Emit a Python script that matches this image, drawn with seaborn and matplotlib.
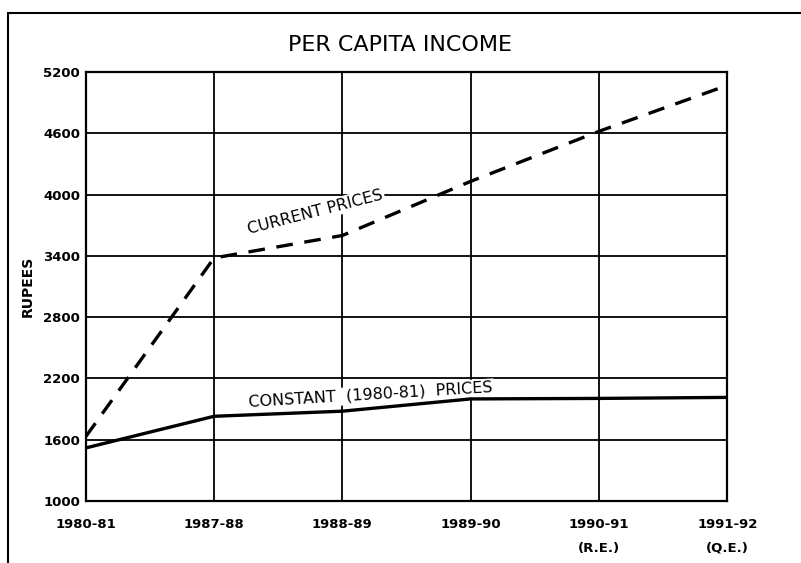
import matplotlib
matplotlib.use("Agg")
import matplotlib.pyplot as plt
import seaborn as sns
import pandas as pd
from matplotlib.lines import Line2D

years = ["1980-81", "1987-88", "1988-89", "1989-90", "1990-91", "1991-92"]
year_notes = ["", "", "", "", "(R.E.)", "(Q.E.)"]
current_prices = [1630, 3380, 3600, 4130, 4620, 5070]
constant_prices = [1520, 1830, 1880, 2000, 2005, 2015]
y_ticks = [1000, 1600, 2200, 2800, 3400, 4000, 4600, 5200]

sns.set_style("white")
plt.rcParams['font.family'] = ['DejaVu Sans']
plt.rcParams['text.color'] = 'black'
plt.rcParams['xtick.color'] = 'black'
plt.rcParams['ytick.color'] = 'black'
plt.rcParams['axes.labelcolor'] = 'black'

df = pd.DataFrame({
    "idx": list(range(len(years))) * 2,
    "value": current_prices + constant_prices,
    "series": ["CURRENT PRICES"] * len(years) + ["CONSTANT (1980-81) PRICES"] * len(years),
})

fig = plt.figure(figsize=(8.01, 5.63), dpi=100)
ax = fig.add_axes([0.107, 0.110, 0.801, 0.762])

# grid
for yt in y_ticks:
    ax.axhline(yt, color="black", lw=1.3, zorder=1)
for i in range(len(years)):
    ax.axvline(i, color="black", lw=1.3, zorder=1)

sns.lineplot(data=df[df.series == "CURRENT PRICES"], x="idx", y="value", ax=ax,
             color="black", lw=2.4, legend=False, zorder=3)
ax.lines[-1].set_dashes([5, 3.5])
sns.lineplot(data=df[df.series != "CURRENT PRICES"], x="idx", y="value", ax=ax,
             color="black", lw=2.4, legend=False, zorder=3)

ax.set_xlim(0, len(years) - 1)
ax.set_ylim(1000, 5200)
ax.set_yticks(y_ticks)
ax.set_yticklabels([str(v) for v in y_ticks], fontsize=9.5, fontweight="bold")
ax.set_xticks(range(len(years)))
ax.set_xticklabels([y if n == "" else f"{y}\n{n}" for y, n in zip(years, year_notes)],
                   fontsize=9.5, fontweight="bold", linespacing=2.1, va="top")
ax.tick_params(axis="y", length=0, pad=4)
ax.tick_params(axis="x", length=0, pad=12)
ax.set_xlabel("")
ax.set_ylabel("RUPEES", fontsize=10, fontweight="bold", labelpad=6)
for s in ax.spines.values():
    s.set_color("black")
    s.set_linewidth(1.6)

ax.text(1.79, 3830, "CURRENT PRICES", rotation=14.5, ha="center", va="center",
        fontsize=11.5, zorder=2,
        bbox=dict(facecolor="white", edgecolor="none", pad=1.0))
ax.text(2.22, 2040, "CONSTANT  (1980-81)  PRICES", rotation=3.5, ha="center", va="center",
        fontsize=11.5, zorder=2,
        bbox=dict(facecolor="white", edgecolor="none", pad=1.0))

fig.text(0.5, 0.92, "PER CAPITA INCOME", ha="center", va="center", fontsize=16)

# outer frame (left and top)
fig.add_artist(Line2D([0.010, 0.010], [0.0, 0.977], color="black", lw=1.5, transform=fig.transFigure))
fig.add_artist(Line2D([0.010, 1.0], [0.977, 0.977], color="black", lw=1.5, transform=fig.transFigure))

fig.savefig("out.png", dpi=100)
